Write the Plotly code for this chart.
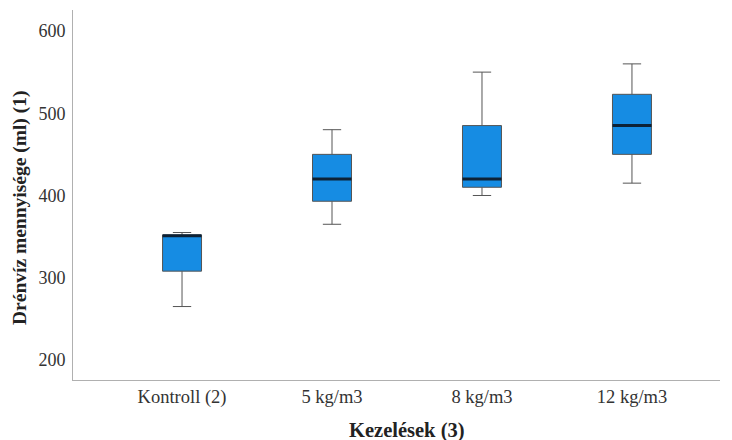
import plotly.graph_objects as go

categories = ["Kontroll (2)", "5 kg/m3", "8 kg/m3", "12 kg/m3"]
lower_whisker = [265, 365, 400, 415]
q1_values = [308, 393, 410, 450]
median_values = [351, 420, 420, 485]
q3_values = [352, 450, 485, 523]
upper_whisker = [355, 480, 550, 560]
y_ticks = [200, 300, 400, 500, 600]

positions = list(range(len(categories)))
box_width = 0.26

fig = go.Figure()
fig.add_trace(go.Box(
    x=positions,
    q1=q1_values,
    median=median_values,
    q3=q3_values,
    lowerfence=lower_whisker,
    upperfence=upper_whisker,
    width=box_width,
    whiskerwidth=0.47,
    fillcolor="#168ce3",
    line=dict(color="#555555", width=1),
    boxpoints=False,
    showlegend=False,
    hoverinfo="skip",
))

for p, m in zip(positions, median_values):
    fig.add_trace(go.Scatter(
        x=[p - box_width / 2, p + box_width / 2],
        y=[m, m],
        mode="lines",
        line=dict(color="#0d2236", width=3),
        showlegend=False,
        hoverinfo="skip",
    ))

font_family = "Times New Roman, Liberation Serif, serif"

# page body has an 8px default margin, so the figure is sized/offset to compensate
fig.update_layout(
    width=724,
    height=432,
    margin=dict(l=65, r=12, t=2, b=60),
    paper_bgcolor="white",
    plot_bgcolor="white",
    font=dict(family=font_family, size=17, color="#333333"),
    xaxis=dict(
        range=[-0.727, 3.587],
        tickmode="array",
        tickvals=positions,
        ticktext=categories,
        showgrid=False,
        zeroline=False,
        showline=True,
        linecolor="#b0b0b0",
        linewidth=1,
        ticks="",
        automargin=False,
        tickfont=dict(family=font_family, size=18.5, color="#333333"),
    ),
    yaxis=dict(
        range=[175.7, 625.5],
        tickmode="array",
        tickvals=y_ticks,
        showgrid=False,
        zeroline=False,
        showline=True,
        linecolor="#b0b0b0",
        linewidth=1,
        ticks="",
        automargin=False,
        ticklabelstandoff=3,
        tickfont=dict(family=font_family, size=18, color="#333333"),
    ),
    annotations=[
        dict(text="<b>Kezelések (3)</b>", xref="paper", yref="paper",
             x=(407 - 73) / 647, y=-(430 - 380) / 370, xanchor="center", yanchor="middle",
             showarrow=False, font=dict(family=font_family, size=20.5, color="#222222")),
        dict(text="<b>Drénvíz mennyisége (ml) (1)</b>", xref="paper", yref="paper",
             x=-(73 - 20) / 647, y=(380 - 208) / 370, xanchor="center", yanchor="middle",
             textangle=-90, showarrow=False,
             font=dict(family=font_family, size=19.5, color="#222222")),
    ],
)

fig.write_html("out.html")
